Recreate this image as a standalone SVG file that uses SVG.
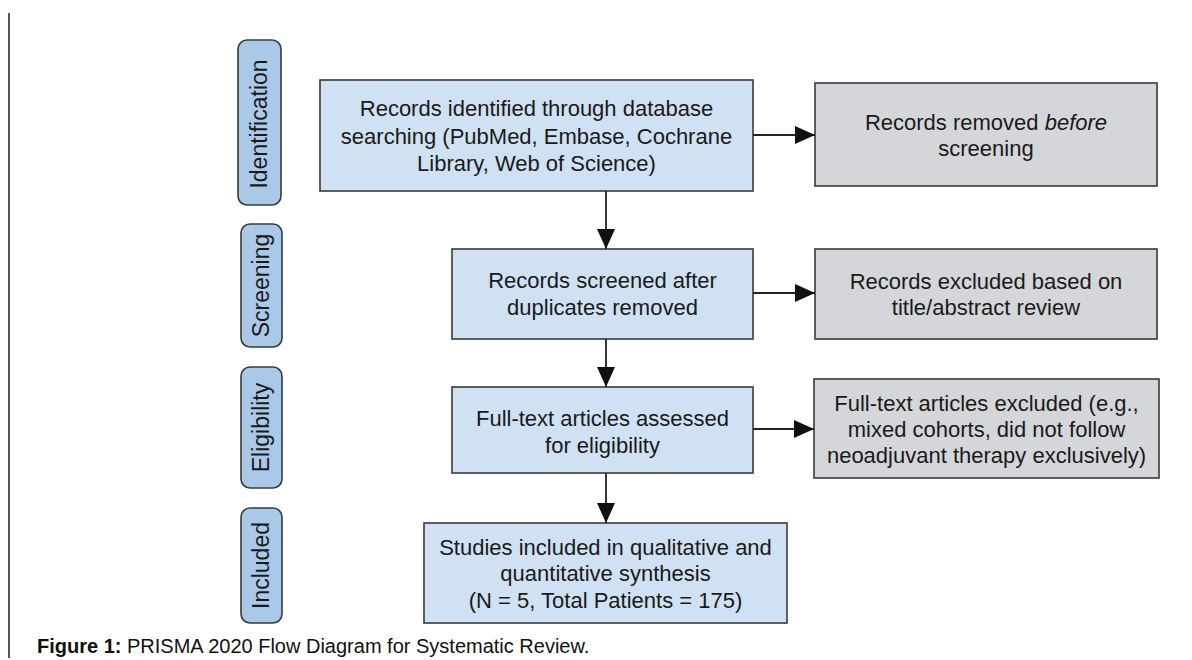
<svg xmlns="http://www.w3.org/2000/svg" width="1192" height="660" viewBox="0 0 1192 660">
<defs>
<style>
.pill{fill:#aac9e8;stroke:#3a3a3a;stroke-width:1.6}
.box{fill:#cfe1f2;stroke:#3a3a3a;stroke-width:1.6}
.gbox{fill:#d4d6d9;stroke:#3a3a3a;stroke-width:1.6}
.t{font-family:"Liberation Sans",Arial,sans-serif;font-size:22px;fill:#1a1a1a;text-anchor:middle}
.pt{font-family:"Liberation Sans",Arial,sans-serif;font-size:23px;fill:#1a1a1a;text-anchor:middle}
.cap{font-family:"Liberation Sans",Arial,sans-serif;font-size:20px;fill:#111}
.conn{stroke:#222;stroke-width:1.8;fill:none;marker-end:url(#ah)}
</style>
<marker id="ah" markerUnits="userSpaceOnUse" markerWidth="20" markerHeight="18" refX="20" refY="9" orient="auto">
<path d="M0,0 L20,9 L0,18 z" fill="#111"/>
</marker>
</defs>
<rect width="1192" height="660" fill="#ffffff"/>
<line x1="9" y1="13" x2="9" y2="658" stroke="#555" stroke-width="2"/>

<g id="pill-identification">
<rect class="pill" x="238" y="40" width="43" height="165" rx="9"/>
<text class="pt" transform="translate(259.5,124) rotate(-90)" y="7.5">Identification</text>
</g>
<g id="pill-screening">
<rect class="pill" x="241" y="224" width="41" height="123" rx="9"/>
<text class="pt" transform="translate(261.5,285.5) rotate(-90)" y="7.5">Screening</text>
</g>
<g id="pill-eligibility">
<rect class="pill" x="241" y="367" width="41" height="121" rx="9"/>
<text class="pt" transform="translate(261.5,427.5) rotate(-90)" y="7.5">Eligibility</text>
</g>
<g id="pill-included">
<rect class="pill" x="241" y="508" width="41" height="115" rx="9"/>
<text class="pt" transform="translate(261.5,565.5) rotate(-90)" y="7.5">Included</text>
</g>

<g id="box-identified">
<rect class="box" x="320" y="80" width="433" height="111"/>
<text class="t" x="536.5" y="116">Records identified through database</text>
<text class="t" x="536.5" y="143.5">searching (PubMed, Embase, Cochrane</text>
<text class="t" x="536.5" y="171">Library, Web of Science)</text>
</g>
<g id="box-removed">
<rect class="gbox" x="815" y="83" width="342" height="103"/>
<text class="t" x="986" y="129.5">Records removed <tspan font-style="italic">before</tspan></text>
<text class="t" x="986" y="156">screening</text>
</g>
<g id="box-screened">
<rect class="box" x="452" y="249" width="301" height="90"/>
<text class="t" x="602.5" y="288">Records screened after</text>
<text class="t" x="602.5" y="315">duplicates removed</text>
</g>
<g id="box-excluded">
<rect class="gbox" x="815" y="249" width="342" height="90"/>
<text class="t" x="986" y="289">Records excluded based on</text>
<text class="t" x="986" y="315">title/abstract review</text>
</g>
<g id="box-fulltext">
<rect class="box" x="452" y="387" width="301" height="86"/>
<text class="t" x="602.5" y="426">Full-text articles assessed</text>
<text class="t" x="602.5" y="453">for eligibility</text>
</g>
<g id="box-fulltext-excluded">
<rect class="gbox" x="814" y="379" width="345" height="99"/>
<text class="t" x="986.5" y="411">Full-text articles excluded (e.g.,</text>
<text class="t" x="986.5" y="437">mixed cohorts, did not follow</text>
<text class="t" x="986.5" y="463">neoadjuvant therapy exclusively)</text>
</g>
<g id="box-included">
<rect class="box" x="424" y="523" width="363" height="100"/>
<text class="t" x="605.5" y="555">Studies included in qualitative and</text>
<text class="t" x="605.5" y="581">quantitative synthesis</text>
<text class="t" x="605.5" y="608">(N = 5, Total Patients = 175)</text>
</g>

<g id="connectors">
<line class="conn" x1="606" y1="191" x2="606" y2="249"/>
<line class="conn" x1="606" y1="339" x2="606" y2="387"/>
<line class="conn" x1="606" y1="473" x2="606" y2="523"/>
<line class="conn" x1="753" y1="135" x2="815" y2="135"/>
<line class="conn" x1="753" y1="293" x2="815" y2="293"/>
<line class="conn" x1="753" y1="429" x2="814" y2="429"/>
</g>

<g id="caption">
<text class="cap" x="37" y="653"><tspan font-weight="bold">Figure 1:</tspan> PRISMA 2020 Flow Diagram for Systematic Review.</text>
</g>
</svg>
